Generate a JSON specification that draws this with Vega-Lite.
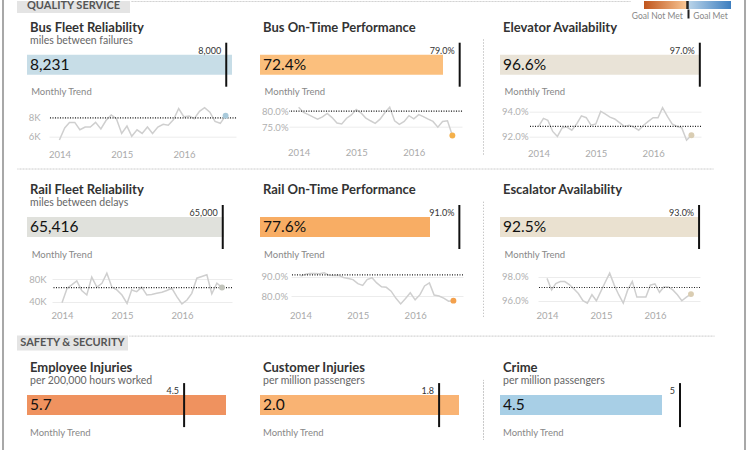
{
"$schema": "https://vega.github.io/schema/vega-lite/v6.json",
"background": "white",
"padding": {"left": 2, "top": 0, "right": 0, "bottom": 0},
"datasets": {
"kpi": [
{"k": "bf", "value": 8231, "goal": 8000, "tgoal": 8000},
{"k": "bot", "value": 0.724, "goal": 0.79, "tgoal": 0.80},
{"k": "elev", "value": 0.966, "goal": 0.97, "tgoal": 0.928},
{"k": "rf", "value": 65416, "goal": 65000, "tgoal": 65000},
{"k": "rot", "value": 0.776, "goal": 0.91, "tgoal": 0.91},
{"k": "esc", "value": 0.925, "goal": 0.93, "tgoal": 0.971},
{"k": "emp", "value": 5.7, "goal": 4.5},
{"k": "cust", "value": 2.0, "goal": 1.8},
{"k": "crime", "value": 4.5, "goal": 5}
],
"trend": [
{"d": "2014-01", "bf": 5600, "bot": 0.812, "elev": 0.928, "rf": 38000, "rot": 0.903, "esc": 0.9786},
{"d": "2014-02", "bf": 6900, "bot": 0.796, "elev": 0.9345, "rf": 64000, "rot": 0.913, "esc": 0.969},
{"d": "2014-03", "bf": 7500, "bot": 0.790, "elev": 0.933, "rf": 70000, "rot": 0.917, "esc": 0.9743},
{"d": "2014-04", "bf": 7500, "bot": 0.782, "elev": 0.924, "rf": 77000, "rot": 0.917, "esc": 0.976},
{"d": "2014-05", "bf": 6700, "bot": 0.775, "elev": 0.920, "rf": 60000, "rot": 0.915, "esc": 0.976},
{"d": "2014-06", "bf": 7000, "bot": 0.782, "elev": 0.927, "rf": 52000, "rot": 0.920, "esc": 0.9735},
{"d": "2014-07", "bf": 7000, "bot": 0.793, "elev": 0.9275, "rf": 84000, "rot": 0.908, "esc": 0.970},
{"d": "2014-08", "bf": 7500, "bot": 0.780, "elev": 0.925, "rf": 66000, "rot": 0.906, "esc": 0.966},
{"d": "2014-09", "bf": 6800, "bot": 0.763, "elev": 0.930, "rf": 73000, "rot": 0.907, "esc": 0.960},
{"d": "2014-10", "bf": 7700, "bot": 0.760, "elev": 0.9365, "rf": 91000, "rot": 0.896, "esc": 0.958},
{"d": "2014-11", "bf": 8300, "bot": 0.778, "elev": 0.935, "rf": 66000, "rot": 0.891, "esc": 0.965},
{"d": "2014-12", "bf": 7900, "bot": 0.788, "elev": 0.929, "rf": 61000, "rot": 0.885, "esc": 0.960},
{"d": "2015-01", "bf": 6300, "bot": 0.805, "elev": 0.930, "rf": 52000, "rot": 0.864, "esc": 0.968},
{"d": "2015-02", "bf": 7100, "bot": 0.794, "elev": 0.940, "rf": 37000, "rot": 0.855, "esc": 0.976},
{"d": "2015-03", "bf": 6000, "bot": 0.779, "elev": 0.938, "rf": 61000, "rot": 0.885, "esc": 0.983},
{"d": "2015-04", "bf": 6700, "bot": 0.770, "elev": 0.9355, "rf": 58000, "rot": 0.895, "esc": 0.973},
{"d": "2015-05", "bf": 6300, "bot": 0.762, "elev": 0.934, "rf": 66000, "rot": 0.868, "esc": 0.965},
{"d": "2015-06", "bf": 7000, "bot": 0.775, "elev": 0.931, "rf": 52000, "rot": 0.848, "esc": 0.958},
{"d": "2015-07", "bf": 6300, "bot": 0.795, "elev": 0.928, "rf": 53000, "rot": 0.845, "esc": 0.969},
{"d": "2015-08", "bf": 7000, "bot": 0.812, "elev": 0.929, "rf": 55000, "rot": 0.825, "esc": 0.976},
{"d": "2015-09", "bf": 7300, "bot": 0.770, "elev": 0.9275, "rf": 57000, "rot": 0.788, "esc": 0.963},
{"d": "2015-10", "bf": 7200, "bot": 0.759, "elev": 0.925, "rf": 60000, "rot": 0.759, "esc": 0.963},
{"d": "2015-11", "bf": 7800, "bot": 0.768, "elev": 0.929, "rf": 64000, "rot": 0.787, "esc": 0.963},
{"d": "2015-12", "bf": 9000, "bot": 0.786, "elev": 0.932, "rf": 49000, "rot": 0.817, "esc": 0.973},
{"d": "2016-01", "bf": 8100, "bot": 0.776, "elev": 0.935, "rf": 36000, "rot": 0.780, "esc": 0.974},
{"d": "2016-02", "bf": 8200, "bot": 0.789, "elev": 0.935, "rf": 43000, "rot": 0.807, "esc": 0.967},
{"d": "2016-03", "bf": 7900, "bot": 0.783, "elev": 0.943, "rf": 55000, "rot": 0.852, "esc": 0.9715},
{"d": "2016-04", "bf": 8700, "bot": 0.775, "elev": 0.936, "rf": 82000, "rot": 0.868, "esc": 0.9715},
{"d": "2016-05", "bf": 9100, "bot": 0.768, "elev": 0.930, "rf": 85000, "rot": 0.805, "esc": 0.969},
{"d": "2016-06", "bf": 8600, "bot": 0.750, "elev": 0.928, "rf": 88000, "rot": 0.800, "esc": 0.965},
{"d": "2016-07", "bf": 7600, "bot": 0.768, "elev": 0.927, "rf": 54000, "rot": 0.789, "esc": 0.960},
{"d": "2016-08", "bf": 7400, "bot": 0.770, "elev": 0.917, "rf": 73000, "rot": 0.773, "esc": 0.963},
{"d": "2016-09", "bf": 8231, "bot": 0.724, "elev": 0.921, "rf": 65416, "rot": 0.776, "esc": 0.9655}
]
},
"config": {
"font": "Lato",
"view": {"stroke": null},
"title": {"anchor": "start", "font": "Lato", "fontSize": 13, "fontWeight": "bold", "color": "#333", "offset": 0, "dx": 3},
"axis": {"title": null, "ticks": false, "domain": false, "labelFont": "Lato", "labelFontSize": 9.5, "labelColor": "#b0b0b0", "gridColor": "#ececec", "gridWidth": 1},
"text": {"font": "Lato"}
},
"hconcat": [
{"hconcat": [
{"width": 0.01, "height": 450, "view": {"stroke": "#a8a8a8", "strokeWidth": 2}, "mark": "rule", "encoding": {}},
{
"vconcat": [
{
"hconcat": [
{"width": 113, "height": 12, "view": {"fill": "#e4e4e4", "stroke": null}, "data": {"values": [{"t": "QUALITY SERVICE"}]}, "mark": {"type": "text", "fontSize": 11, "fontWeight": "bold", "color": "#555", "dy": -1}, "encoding": {"text": {"field": "t"}}},
{"width": 499, "height": 0.01, "view": {"stroke": "#c4c4c4", "strokeDash": [1, 2]}, "mark": "rule", "encoding": {}},
{"width": 87, "height": 8,
"data": {"values": [{"side": "Goal Not Met", "lo": -1, "hi": 0}, {"side": "Goal Met", "lo": 0, "hi": 1}]},
"layer": [
{"transform": [{"filter": "datum.hi == 0"}], "mark": {"type": "rect", "color": {"gradient": "linear", "x1": 0, "x2": 1, "y1": 0, "y2": 0, "stops": [{"offset": 0, "color": "#c0551d"}, {"offset": 1, "color": "#f9c896"}]}},
"encoding": {"x": {"field": "lo", "type": "quantitative", "scale": {"domain": [-1, 1], "nice": false},
"axis": {"values": [-0.12, 0, 0.12], "labelExpr": "datum.value < -0.05 ? 'Goal Not Met' : (datum.value > 0.05 ? 'Goal Met' : '')", "labelAlign": {"condition": {"test": "datum.value < 0", "value": "right"}, "value": "left"}, "ticks": true, "tickSize": 9, "tickWidth": 2, "tickColor": {"condition": {"test": "datum.value == 0", "value": "#222"}, "value": "rgba(0,0,0,0)"}, "labelPadding": -7, "labelColor": "#888", "labelFontSize": 8.5, "grid": false, "domain": false, "labelFlush": false, "labelOverlap": false}},
"x2": {"field": "hi"}}},
{"transform": [{"filter": "datum.lo == 0"}], "mark": {"type": "rect", "color": {"gradient": "linear", "x1": 0, "x2": 1, "y1": 0, "y2": 0, "stops": [{"offset": 0, "color": "#bcd6ea"}, {"offset": 1, "color": "#3d7ebf"}]}},
"encoding": {"x": {"field": "lo", "type": "quantitative"}, "x2": {"field": "hi"}}},
{"mark": {"type": "rule", "color": "#222", "strokeWidth": 2}, "encoding": {"x": {"datum": 0, "type": "quantitative"}}}
]}
],
"spacing": 0
},
{
"vconcat": [
{"vconcat": [
{
"hconcat": [
{"width": 1, "height": 1, "mark": "rule", "encoding": {}},
{"vconcat": [
{"width": 224, "height": 0.01, "title": {"text": "Bus Fleet Reliability"}, "mark": "rule", "encoding": {}},
{"vconcat": [
{"width": 224, "height": 44, "title": {"text": "miles between failures", "fontSize": 10.5, "fontWeight": "normal", "color": "#666", "offset": -4.8}, "data": {"name": "kpi"}, "transform": [{"filter": "datum.k == 'bf'"}], "layer": [
{"mark": {"type": "bar", "height": 20, "color": "#c7dde7"}, "encoding": {"x": {"field": "value", "type": "quantitative", "scale": {"domain": [0, 8994], "nice": false}, "axis": null}}},
{"mark": {"type": "rule", "strokeWidth": 2, "color": "#111"}, "encoding": {"x": {"field": "goal", "type": "quantitative", "axis": null}}},
{"mark": {"type": "text", "align": "left", "baseline": "middle", "dx": 3, "fontSize": 15.5, "color": "#111"}, "encoding": {"x": {"datum": 0, "type": "quantitative", "axis": null}, "text": {"field": "value", "type": "quantitative", "format": ","}}},
{"mark": {"type": "text", "align": "right", "baseline": "middle", "dx": -5, "dy": -14, "fontSize": 9, "color": "#333"}, "encoding": {"x": {"field": "goal", "type": "quantitative", "axis": null}, "text": {"field": "goal", "type": "quantitative", "format": ","}}}
]},
{"hconcat": [
{"width": 1, "height": 1, "mark": "rule", "encoding": {}},
{"width": 187, "height": 36, "title": {"text": "Monthly Trend", "fontSize": 9.5, "fontWeight": "normal", "color": "#888", "frame": "bounds", "offset": 8}, "layer": [
{"data": {"name": "trend"}, "mark": {"type": "line", "color": "#cfcfcf", "strokeWidth": 1.5}, "encoding": {
"x": {"field": "d", "type": "temporal", "scale": {"domain": [{"year": 2013, "month": 11, "date": 1}, {"year": 2016, "month": 11, "date": 1}]}, "axis": {"values": [{"year": 2014, "month": 1, "date": 1}, {"year": 2015, "month": 1, "date": 1}, {"year": 2016, "month": 1, "date": 1}], "format": "%Y", "grid": false, "labelPadding": 7, "labelColor": "#aaa", "labelFlush": false}},
"y": {"field": "bf", "type": "quantitative", "scale": {"domain": [5300, 9200], "nice": false, "zero": false}, "axis": {"values": [6000, 8000], "labelExpr": "format(datum.value / 1000, 'd') + 'K'", "labelPadding": 9}}}},
{"data": {"name": "kpi"}, "transform": [{"filter": "datum.k == 'bf'"}], "mark": {"type": "rule", "color": "#222", "strokeDash": [1, 1.5], "strokeWidth": 1.2}, "encoding": {"y": {"field": "tgoal", "type": "quantitative"}}},
{"data": {"name": "trend"}, "transform": [{"filter": "utcyear(datum.d) == 2016 && utcmonth(datum.d) == 8"}], "mark": {"type": "circle", "size": 35, "opacity": 1, "color": "#a9cadb"}, "encoding": {"x": {"field": "d", "type": "temporal"}, "y": {"field": "bf", "type": "quantitative"}}}
]}
], "spacing": 0}
], "spacing": -1}
], "spacing": -4.3},
{"vconcat": [
{"width": 213, "height": 0.01, "title": {"text": "Bus On-Time Performance"}, "mark": "rule", "encoding": {}},
{"vconcat": [
{"width": 213, "height": 44, "title": {"text": " ", "fontSize": 10.5, "fontWeight": "normal", "color": "#666", "offset": -4.8}, "data": {"name": "kpi"}, "transform": [{"filter": "datum.k == 'bot'"}], "layer": [
{"mark": {"type": "bar", "height": 20, "color": "#fbbf7d"}, "encoding": {"x": {"field": "value", "type": "quantitative", "scale": {"domain": [0, 0.8427], "nice": false}, "axis": null}}},
{"mark": {"type": "rule", "strokeWidth": 2, "color": "#111"}, "encoding": {"x": {"field": "goal", "type": "quantitative", "axis": null}}},
{"mark": {"type": "text", "align": "left", "baseline": "middle", "dx": 3, "fontSize": 15.5, "color": "#111"}, "encoding": {"x": {"datum": 0, "type": "quantitative", "axis": null}, "text": {"field": "value", "type": "quantitative", "format": ".1%"}}},
{"mark": {"type": "text", "align": "right", "baseline": "middle", "dx": -5, "dy": -14, "fontSize": 9, "color": "#333"}, "encoding": {"x": {"field": "goal", "type": "quantitative", "axis": null}, "text": {"field": "goal", "type": "quantitative", "format": ".1%"}}}
]},
{"hconcat": [
{"width": 1, "height": 1, "mark": "rule", "encoding": {}},
{"width": 173, "height": 36, "title": {"text": "Monthly Trend", "fontSize": 9.5, "fontWeight": "normal", "color": "#888", "frame": "bounds", "offset": 8}, "layer": [
{"data": {"name": "trend"}, "mark": {"type": "line", "color": "#cfcfcf", "strokeWidth": 1.5}, "encoding": {
"x": {"field": "d", "type": "temporal", "scale": {"domain": [{"year": 2013, "month": 11, "date": 1}, {"year": 2016, "month": 11, "date": 1}]}, "axis": {"values": [{"year": 2014, "month": 1, "date": 1}, {"year": 2015, "month": 1, "date": 1}, {"year": 2016, "month": 1, "date": 1}], "format": "%Y", "grid": false, "labelPadding": 7, "labelColor": "#aaa", "labelFlush": false}},
"y": {"field": "bot", "type": "quantitative", "scale": {"domain": [0.708, 0.82], "nice": false, "zero": false}, "axis": {"values": [0.75, 0.8], "format": ".1%", "labelPadding": 1}}}},
{"data": {"name": "kpi"}, "transform": [{"filter": "datum.k == 'bot'"}], "mark": {"type": "rule", "color": "#222", "strokeDash": [1, 1.5], "strokeWidth": 1.2}, "encoding": {"y": {"field": "tgoal", "type": "quantitative"}}},
{"data": {"name": "trend"}, "transform": [{"filter": "utcyear(datum.d) == 2016 && utcmonth(datum.d) == 8"}], "mark": {"type": "circle", "size": 35, "opacity": 1, "color": "#f4b04a"}, "encoding": {"x": {"field": "d", "type": "temporal"}, "y": {"field": "bot", "type": "quantitative"}}}
]}
], "spacing": 0}
], "spacing": -1}
], "spacing": -4.3},
{"hconcat": [
{"width": 0.01, "height": 116, "view": {"stroke": "#c4c4c4", "strokeDash": [1, 2]}, "mark": "rule", "encoding": {}},
{"vconcat": [
{"width": 213, "height": 0.01, "title": {"text": "Elevator Availability"}, "mark": "rule", "encoding": {}},
{"vconcat": [
{"width": 213, "height": 44, "title": {"text": " ", "fontSize": 10.5, "fontWeight": "normal", "color": "#666", "offset": -4.8}, "data": {"name": "kpi"}, "transform": [{"filter": "datum.k == 'elev'"}], "layer": [
{"mark": {"type": "bar", "height": 20, "color": "#e9e3d7"}, "encoding": {"x": {"field": "value", "type": "quantitative", "scale": {"domain": [0, 1.034], "nice": false}, "axis": null}}},
{"mark": {"type": "rule", "strokeWidth": 2, "color": "#111"}, "encoding": {"x": {"field": "goal", "type": "quantitative", "axis": null}}},
{"mark": {"type": "text", "align": "left", "baseline": "middle", "dx": 3, "fontSize": 15.5, "color": "#111"}, "encoding": {"x": {"datum": 0, "type": "quantitative", "axis": null}, "text": {"field": "value", "type": "quantitative", "format": ".1%"}}},
{"mark": {"type": "text", "align": "right", "baseline": "middle", "dx": -5, "dy": -14, "fontSize": 9, "color": "#333"}, "encoding": {"x": {"field": "goal", "type": "quantitative", "axis": null}, "text": {"field": "goal", "type": "quantitative", "format": ".1%"}}}
]},
{"hconcat": [
{"width": 1, "height": 1, "mark": "rule", "encoding": {}},
{"width": 172, "height": 36, "title": {"text": "Monthly Trend", "fontSize": 9.5, "fontWeight": "normal", "color": "#888", "frame": "bounds", "offset": 8}, "layer": [
{"data": {"name": "trend"}, "mark": {"type": "line", "color": "#cfcfcf", "strokeWidth": 1.5}, "encoding": {
"x": {"field": "d", "type": "temporal", "scale": {"domain": [{"year": 2013, "month": 11, "date": 1}, {"year": 2016, "month": 11, "date": 1}]}, "axis": {"values": [{"year": 2014, "month": 1, "date": 1}, {"year": 2015, "month": 1, "date": 1}, {"year": 2016, "month": 1, "date": 1}], "format": "%Y", "grid": false, "labelPadding": 7, "labelColor": "#aaa", "labelFlush": false}},
"y": {"field": "elev", "type": "quantitative", "scale": {"domain": [0.9158, 0.9446], "nice": false, "zero": false}, "axis": {"values": [0.92, 0.94], "format": ".1%", "labelPadding": 1}}}},
{"data": {"name": "kpi"}, "transform": [{"filter": "datum.k == 'elev'"}], "mark": {"type": "rule", "color": "#222", "strokeDash": [1, 1.5], "strokeWidth": 1.2}, "encoding": {"y": {"field": "tgoal", "type": "quantitative"}}},
{"data": {"name": "trend"}, "transform": [{"filter": "utcyear(datum.d) == 2016 && utcmonth(datum.d) == 8"}], "mark": {"type": "circle", "size": 35, "opacity": 1, "color": "#d9cdb3"}, "encoding": {"x": {"field": "d", "type": "temporal"}, "y": {"field": "elev", "type": "quantitative"}}}
]}
], "spacing": 0}
], "spacing": -1}
], "spacing": -4.3}
], "spacing": 16}
],
"spacing": 9
},
{"width": 696, "height": 0.01, "view": {"stroke": "#c4c4c4", "strokeDash": [1, 2]}, "mark": "rule", "encoding": {}}
], "spacing": 7.5},
{
"hconcat": [
{"width": 1, "height": 1, "mark": "rule", "encoding": {}},
{"vconcat": [
{"width": 224, "height": 0.01, "title": {"text": "Rail Fleet Reliability"}, "mark": "rule", "encoding": {}},
{"vconcat": [
{"width": 224, "height": 44, "title": {"text": "miles between delays", "fontSize": 10.5, "fontWeight": "normal", "color": "#666", "offset": -4.8}, "data": {"name": "kpi"}, "transform": [{"filter": "datum.k == 'rf'"}], "layer": [
{"mark": {"type": "bar", "height": 20, "color": "#e0e1dc"}, "encoding": {"x": {"field": "value", "type": "quantitative", "scale": {"domain": [0, 74382], "nice": false}, "axis": null}}},
{"mark": {"type": "rule", "strokeWidth": 2, "color": "#111"}, "encoding": {"x": {"field": "goal", "type": "quantitative", "axis": null}}},
{"mark": {"type": "text", "align": "left", "baseline": "middle", "dx": 3, "fontSize": 15.5, "color": "#111"}, "encoding": {"x": {"datum": 0, "type": "quantitative", "axis": null}, "text": {"field": "value", "type": "quantitative", "format": ","}}},
{"mark": {"type": "text", "align": "right", "baseline": "middle", "dx": -5, "dy": -14, "fontSize": 9, "color": "#333"}, "encoding": {"x": {"field": "goal", "type": "quantitative", "axis": null}, "text": {"field": "goal", "type": "quantitative", "format": ","}}}
]},
{"hconcat": [
{"width": 1, "height": 1, "mark": "rule", "encoding": {}},
{"width": 180, "height": 36, "title": {"text": "Monthly Trend", "fontSize": 9.5, "fontWeight": "normal", "color": "#888", "frame": "bounds", "offset": 8}, "layer": [
{"data": {"name": "trend"}, "mark": {"type": "line", "color": "#cfcfcf", "strokeWidth": 1.5}, "encoding": {
"x": {"field": "d", "type": "temporal", "scale": {"domain": [{"year": 2013, "month": 11, "date": 1}, {"year": 2016, "month": 11, "date": 1}]}, "axis": {"values": [{"year": 2014, "month": 1, "date": 1}, {"year": 2015, "month": 1, "date": 1}, {"year": 2016, "month": 1, "date": 1}], "format": "%Y", "grid": false, "labelPadding": 7, "labelColor": "#aaa", "labelFlush": false}},
"y": {"field": "rf", "type": "quantitative", "scale": {"domain": [37700, 102000], "nice": false, "zero": false}, "axis": {"values": [40000, 80000], "labelExpr": "format(datum.value / 1000, 'd') + 'K'", "labelPadding": 6}}}},
{"data": {"name": "kpi"}, "transform": [{"filter": "datum.k == 'rf'"}], "mark": {"type": "rule", "color": "#222", "strokeDash": [1, 1.5], "strokeWidth": 1.2}, "encoding": {"y": {"field": "tgoal", "type": "quantitative"}}},
{"data": {"name": "trend"}, "transform": [{"filter": "utcyear(datum.d) == 2016 && utcmonth(datum.d) == 8"}], "mark": {"type": "circle", "size": 35, "opacity": 1, "color": "#c2c4bb"}, "encoding": {"x": {"field": "d", "type": "temporal"}, "y": {"field": "rf", "type": "quantitative"}}}
]}
], "spacing": 0}
], "spacing": -1}
], "spacing": -4.3},
{"vconcat": [
{"width": 213, "height": 0.01, "title": {"text": "Rail On-Time Performance"}, "mark": "rule", "encoding": {}},
{"vconcat": [
{"width": 213, "height": 44, "title": {"text": " ", "fontSize": 10.5, "fontWeight": "normal", "color": "#666", "offset": -4.8}, "data": {"name": "kpi"}, "transform": [{"filter": "datum.k == 'rot'"}], "layer": [
{"mark": {"type": "bar", "height": 20, "color": "#f8ad64"}, "encoding": {"x": {"field": "value", "type": "quantitative", "scale": {"domain": [0, 0.9723], "nice": false}, "axis": null}}},
{"mark": {"type": "rule", "strokeWidth": 2, "color": "#111"}, "encoding": {"x": {"field": "goal", "type": "quantitative", "axis": null}}},
{"mark": {"type": "text", "align": "left", "baseline": "middle", "dx": 3, "fontSize": 15.5, "color": "#111"}, "encoding": {"x": {"datum": 0, "type": "quantitative", "axis": null}, "text": {"field": "value", "type": "quantitative", "format": ".1%"}}},
{"mark": {"type": "text", "align": "right", "baseline": "middle", "dx": -5, "dy": -14, "fontSize": 9, "color": "#333"}, "encoding": {"x": {"field": "goal", "type": "quantitative", "axis": null}, "text": {"field": "goal", "type": "quantitative", "format": ".1%"}}}
]},
{"hconcat": [
{"width": 1, "height": 1, "mark": "rule", "encoding": {}},
{"width": 172, "height": 36, "title": {"text": "Monthly Trend", "fontSize": 9.5, "fontWeight": "normal", "color": "#888", "frame": "bounds", "offset": 8}, "layer": [
{"data": {"name": "trend"}, "mark": {"type": "line", "color": "#cfcfcf", "strokeWidth": 1.5}, "encoding": {
"x": {"field": "d", "type": "temporal", "scale": {"domain": [{"year": 2013, "month": 11, "date": 1}, {"year": 2016, "month": 11, "date": 1}]}, "axis": {"values": [{"year": 2014, "month": 1, "date": 1}, {"year": 2015, "month": 1, "date": 1}, {"year": 2016, "month": 1, "date": 1}], "format": "%Y", "grid": false, "labelPadding": 7, "labelColor": "#aaa", "labelFlush": false}},
"y": {"field": "rot", "type": "quantitative", "scale": {"domain": [0.7638, 0.9504], "nice": false, "zero": false}, "axis": {"values": [0.8, 0.9], "format": ".1%", "labelPadding": 3.5}}}},
{"data": {"name": "kpi"}, "transform": [{"filter": "datum.k == 'rot'"}], "mark": {"type": "rule", "color": "#222", "strokeDash": [1, 1.5], "strokeWidth": 1.2}, "encoding": {"y": {"field": "tgoal", "type": "quantitative"}}},
{"data": {"name": "trend"}, "transform": [{"filter": "utcyear(datum.d) == 2016 && utcmonth(datum.d) == 8"}], "mark": {"type": "circle", "size": 35, "opacity": 1, "color": "#f3a04c"}, "encoding": {"x": {"field": "d", "type": "temporal"}, "y": {"field": "rot", "type": "quantitative"}}}
]}
], "spacing": 0}
], "spacing": -1}
], "spacing": -4.3},
{"hconcat": [
{"width": 0.01, "height": 116, "view": {"stroke": "#c4c4c4", "strokeDash": [1, 2]}, "mark": "rule", "encoding": {}},
{"vconcat": [
{"width": 213, "height": 0.01, "title": {"text": "Escalator Availability"}, "mark": "rule", "encoding": {}},
{"vconcat": [
{"width": 213, "height": 44, "title": {"text": " ", "fontSize": 10.5, "fontWeight": "normal", "color": "#666", "offset": -4.8}, "data": {"name": "kpi"}, "transform": [{"filter": "datum.k == 'esc'"}], "layer": [
{"mark": {"type": "bar", "height": 20, "color": "#eae1d0"}, "encoding": {"x": {"field": "value", "type": "quantitative", "scale": {"domain": [0, 0.9951], "nice": false}, "axis": null}}},
{"mark": {"type": "rule", "strokeWidth": 2, "color": "#111"}, "encoding": {"x": {"field": "goal", "type": "quantitative", "axis": null}}},
{"mark": {"type": "text", "align": "left", "baseline": "middle", "dx": 3, "fontSize": 15.5, "color": "#111"}, "encoding": {"x": {"datum": 0, "type": "quantitative", "axis": null}, "text": {"field": "value", "type": "quantitative", "format": ".1%"}}},
{"mark": {"type": "text", "align": "right", "baseline": "middle", "dx": -5, "dy": -14, "fontSize": 9, "color": "#333"}, "encoding": {"x": {"field": "goal", "type": "quantitative", "axis": null}, "text": {"field": "goal", "type": "quantitative", "format": ".1%"}}}
]},
{"hconcat": [
{"width": 1, "height": 1, "mark": "rule", "encoding": {}},
{"width": 162, "height": 36, "title": {"text": "Monthly Trend", "fontSize": 9.5, "fontWeight": "normal", "color": "#888", "frame": "bounds", "offset": 8}, "layer": [
{"data": {"name": "trend"}, "mark": {"type": "line", "color": "#cfcfcf", "strokeWidth": 1.5}, "encoding": {
"x": {"field": "d", "type": "temporal", "scale": {"domain": [{"year": 2013, "month": 11, "date": 1}, {"year": 2016, "month": 11, "date": 1}]}, "axis": {"values": [{"year": 2014, "month": 1, "date": 1}, {"year": 2015, "month": 1, "date": 1}, {"year": 2016, "month": 1, "date": 1}], "format": "%Y", "grid": false, "labelPadding": 7, "labelColor": "#aaa", "labelFlush": false}},
"y": {"field": "esc", "type": "quantitative", "scale": {"domain": [0.9581, 0.9881], "nice": false, "zero": false}, "axis": {"values": [0.96, 0.98], "format": ".1%", "labelPadding": 10}}}},
{"data": {"name": "kpi"}, "transform": [{"filter": "datum.k == 'esc'"}], "mark": {"type": "rule", "color": "#222", "strokeDash": [1, 1.5], "strokeWidth": 1.2}, "encoding": {"y": {"field": "tgoal", "type": "quantitative"}}},
{"data": {"name": "trend"}, "transform": [{"filter": "utcyear(datum.d) == 2016 && utcmonth(datum.d) == 8"}], "mark": {"type": "circle", "size": 35, "opacity": 1, "color": "#dacdb2"}, "encoding": {"x": {"field": "d", "type": "temporal"}, "y": {"field": "esc", "type": "quantitative"}}}
]}
], "spacing": 0}
], "spacing": -1}
], "spacing": -4.3}
], "spacing": 16}
],
"spacing": 9
},
{"vconcat": [
{
"hconcat": [
{"width": 111, "height": 15, "view": {"fill": "#e4e4e4", "stroke": null}, "data": {"values": [{"t": "SAFETY & SECURITY"}]}, "mark": {"type": "text", "fontSize": 11, "fontWeight": "bold", "color": "#555"}, "encoding": {"text": {"field": "t"}}},
{"width": 585, "height": 0.01, "view": {"stroke": "#c4c4c4", "strokeDash": [1, 2]}, "mark": "rule", "encoding": {}}
],
"spacing": 0
},
{
"hconcat": [
{"width": 1, "height": 1, "mark": "rule", "encoding": {}},
{"vconcat": [
{"width": 224, "height": 0.01, "title": {"text": "Employee Injuries"}, "mark": "rule", "encoding": {}},
{"vconcat": [
{"width": 224, "height": 44, "title": {"text": "per 200,000 hours worked", "fontSize": 10.5, "fontWeight": "normal", "color": "#666", "offset": -4.8}, "data": {"name": "kpi"}, "transform": [{"filter": "datum.k == 'emp'"}], "layer": [
{"mark": {"type": "bar", "height": 20, "color": "#ef925f"}, "encoding": {"x": {"field": "value", "type": "quantitative", "scale": {"domain": [0, 6.416], "nice": false}, "axis": null}}},
{"mark": {"type": "rule", "strokeWidth": 2, "color": "#111"}, "encoding": {"x": {"field": "goal", "type": "quantitative", "axis": null}}},
{"mark": {"type": "text", "align": "left", "baseline": "middle", "dx": 3, "fontSize": 15.5, "color": "#111"}, "encoding": {"x": {"datum": 0, "type": "quantitative", "axis": null}, "text": {"field": "value", "type": "quantitative", "format": ".1f"}}},
{"mark": {"type": "text", "align": "right", "baseline": "middle", "dx": -5, "dy": -14, "fontSize": 9, "color": "#333"}, "encoding": {"x": {"field": "goal", "type": "quantitative", "axis": null}, "text": {"field": "goal", "type": "quantitative", "format": ".1f"}}}
]},
{"width": 100, "height": 0.01, "title": {"text": "Monthly Trend", "fontSize": 9.5, "fontWeight": "normal", "color": "#888", "frame": "bounds", "offset": 0}, "mark": "rule", "encoding": {}}
], "spacing": -1}
], "spacing": -4.3},
{"vconcat": [
{"width": 213, "height": 0.01, "title": {"text": "Customer Injuries"}, "mark": "rule", "encoding": {}},
{"vconcat": [
{"width": 213, "height": 44, "title": {"text": "per million passengers", "fontSize": 10.5, "fontWeight": "normal", "color": "#666", "offset": -4.8}, "data": {"name": "kpi"}, "transform": [{"filter": "datum.k == 'cust'"}], "layer": [
{"mark": {"type": "bar", "height": 20, "color": "#f9b373"}, "encoding": {"x": {"field": "value", "type": "quantitative", "scale": {"domain": [0, 2.1407], "nice": false}, "axis": null}}},
{"mark": {"type": "rule", "strokeWidth": 2, "color": "#111"}, "encoding": {"x": {"field": "goal", "type": "quantitative", "axis": null}}},
{"mark": {"type": "text", "align": "left", "baseline": "middle", "dx": 3, "fontSize": 15.5, "color": "#111"}, "encoding": {"x": {"datum": 0, "type": "quantitative", "axis": null}, "text": {"field": "value", "type": "quantitative", "format": ".1f"}}},
{"mark": {"type": "text", "align": "right", "baseline": "middle", "dx": -5, "dy": -14, "fontSize": 9, "color": "#333"}, "encoding": {"x": {"field": "goal", "type": "quantitative", "axis": null}, "text": {"field": "goal", "type": "quantitative", "format": ".1f"}}}
]},
{"width": 100, "height": 0.01, "title": {"text": "Monthly Trend", "fontSize": 9.5, "fontWeight": "normal", "color": "#888", "frame": "bounds", "offset": 0}, "mark": "rule", "encoding": {}}
], "spacing": -1}
], "spacing": -4.3},
{"hconcat": [
{"width": 0.01, "height": 60, "view": {"stroke": "#c4c4c4", "strokeDash": [1, 2]}, "mark": "rule", "encoding": {}},
{"vconcat": [
{"width": 213, "height": 0.01, "title": {"text": "Crime"}, "mark": "rule", "encoding": {}},
{"vconcat": [
{"width": 213, "height": 44, "title": {"text": "per million passengers", "fontSize": 10.5, "fontWeight": "normal", "color": "#666", "offset": -4.8}, "data": {"name": "kpi"}, "transform": [{"filter": "datum.k == 'crime'"}], "layer": [
{"mark": {"type": "bar", "height": 20, "color": "#a8cfe6"}, "encoding": {"x": {"field": "value", "type": "quantitative", "scale": {"domain": [0, 5.917], "nice": false}, "axis": null}}},
{"mark": {"type": "rule", "strokeWidth": 2, "color": "#111"}, "encoding": {"x": {"field": "goal", "type": "quantitative", "axis": null}}},
{"mark": {"type": "text", "align": "left", "baseline": "middle", "dx": 3, "fontSize": 15.5, "color": "#111"}, "encoding": {"x": {"datum": 0, "type": "quantitative", "axis": null}, "text": {"field": "value", "type": "quantitative", "format": ".1f"}}},
{"mark": {"type": "text", "align": "right", "baseline": "middle", "dx": -5, "dy": -14, "fontSize": 9, "color": "#333"}, "encoding": {"x": {"field": "goal", "type": "quantitative", "axis": null}, "text": {"field": "goal", "type": "quantitative", "format": "d"}}}
]},
{"width": 100, "height": 0.01, "title": {"text": "Monthly Trend", "fontSize": 9.5, "fontWeight": "normal", "color": "#888", "frame": "bounds", "offset": 0}, "mark": "rule", "encoding": {}}
], "spacing": -1}
], "spacing": -4.3}
], "spacing": 16}
],
"spacing": 9
}
], "spacing": 11.8}
],
"spacing": 14.3
}
],
"spacing": 2
}
], "spacing": 11},
{"width": 0.01, "height": 450, "view": {"stroke": "#a8a8a8", "strokeWidth": 2}, "mark": "rule", "encoding": {}}
],
"spacing": 13
}
